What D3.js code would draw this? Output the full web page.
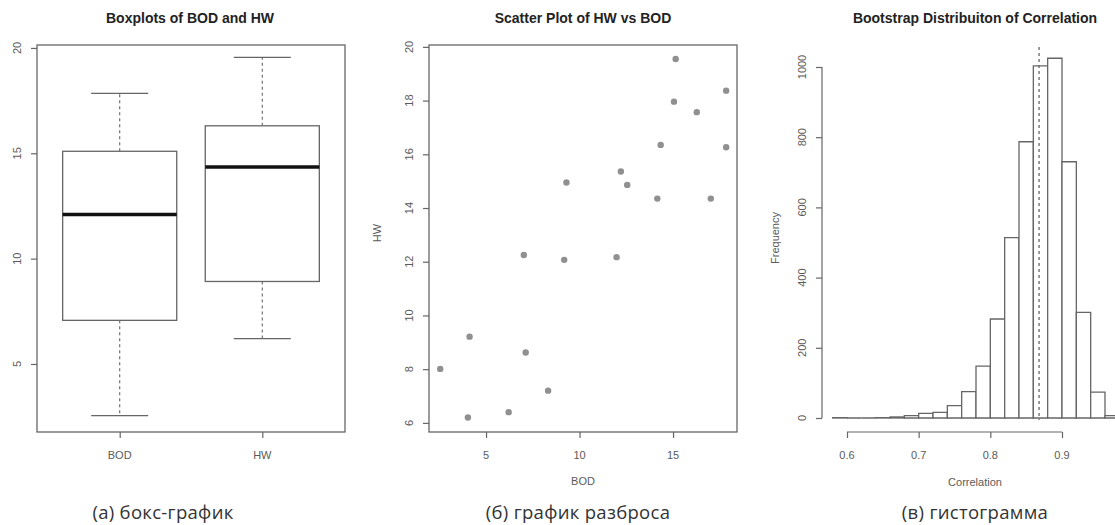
<!DOCTYPE html>
<html>
<head>
<meta charset="utf-8">
<script src="https://cdn.jsdelivr.net/npm/d3@7"></script>
<style>
  html, body { margin: 0; padding: 0; background: #fff; }
  svg { display: block; }
  .tick-label { font-family: "Liberation Sans", Arial, sans-serif; font-size: 11px; fill: #5a5a5a; }
  .axis-title { font-family: "Liberation Sans", Arial, sans-serif; font-size: 11px; fill: #5a5a5a; }
  .title { font-family: "Liberation Sans", Arial, sans-serif; font-size: 14px; font-weight: bold; fill: #222; }
  .caption { font-family: "Open Sans", "Noto Sans", sans-serif; font-size: 18.5px; letter-spacing: 0.3px; fill: #333; }
</style>
</head>
<body>
<svg id="chart" width="1115" height="525"></svg>
<script>
// ---------------- DATA ----------------
const bod = [15.14, 17.84, 15.05, 16.27, 14.34, 17.84, 12.21, 9.30, 12.55, 14.16,
             17.02, 7.02, 9.18, 11.98, 4.12, 7.12, 2.55, 8.32, 6.21, 4.03];
const hw  = [19.55, 18.37, 17.96, 17.57, 16.35, 16.26, 15.36, 14.95, 14.86, 14.35,
             14.35, 12.25, 12.07, 12.17, 9.21, 8.62, 8.01, 7.20, 6.40, 6.20];
const boxCategories = ["BOD", "HW"];
const boxTicks = [5, 10, 15, 20];
const scatterXTicks = [5, 10, 15];
const scatterYTicks = [6, 8, 10, 12, 14, 16, 18, 20];
const histBinStarts = [0.58, 0.60, 0.62, 0.64, 0.66, 0.68, 0.70, 0.72, 0.74, 0.76,
                       0.78, 0.80, 0.82, 0.84, 0.86, 0.88, 0.90, 0.92, 0.94, 0.96];
const histCounts = [1, 0, 0, 1, 3, 7, 13, 16, 35, 75,
                    148, 282, 514, 787, 1003, 1025, 730, 301, 74, 7];
const histBinWidth = 0.02;
const histXTicks = [0.6, 0.7, 0.8, 0.9];
const histYTicks = [0, 200, 400, 600, 800, 1000];
const observedCorr = 0.868;
const titles = ["Boxplots of BOD and HW", "Scatter Plot of HW vs BOD", "Bootstrap Distribuiton of Correlation"];
const captions = ["(а) бокс-график", "(б) график разброса", "(в) гистограмма"];

// ---------------- HELPERS ----------------
const svg = d3.select("#chart");
const axisColor = "#666";

// Tukey five-number summary (as R's boxplot)
function fivenum(arr) {
  const s = arr.slice().sort((a, b) => a - b);
  const n = s.length;
  const n4 = Math.floor((n + 3) / 2) / 2;
  const d = [1, n4, (n + 1) / 2, n + 1 - n4, n];
  return d.map(v => 0.5 * (s[Math.floor(v) - 1] + s[Math.ceil(v) - 1]));
}

function styleLines(gg) {
  gg.selectAll(".domain").attr("stroke", axisColor).attr("stroke-width", 1.2);
  gg.selectAll(".tick line").attr("stroke", axisColor).attr("stroke-width", 1.2);
}

// R-style left axis: ticks via d3.axisLeft, rotated labels drawn explicitly
function leftAxis(g, scale, ticks, xPos, showDomain) {
  const ax = d3.axisLeft(scale).tickValues(ticks).tickSize(6).tickSizeOuter(0).tickFormat("");
  const gg = g.append("g").attr("transform", `translate(${xPos},0)`).call(ax);
  styleLines(gg);
  if (showDomain) {
    gg.select(".domain").attr("d", `M0,${scale(ticks[0])}V${scale(ticks[ticks.length - 1])}`);
  } else {
    gg.select(".domain").remove();
  }
  g.append("g").selectAll("text").data(ticks).enter().append("text")
    .attr("class", "tick-label")
    .attr("text-anchor", "middle")
    .attr("transform", d => `translate(${xPos - 16},${scale(d)}) rotate(-90)`)
    .text(d => d3.format("~g")(d));
  return gg;
}

function bottomAxis(g, scale, ticks, yPos, fmt, showDomain) {
  const ax = d3.axisBottom(scale).tickValues(ticks).tickSize(6).tickSizeOuter(0).tickFormat("");
  const gg = g.append("g").attr("transform", `translate(0,${yPos})`).call(ax);
  styleLines(gg);
  if (showDomain) {
    gg.select(".domain").attr("d", `M${scale(ticks[0])},0H${scale(ticks[ticks.length - 1])}`);
  } else {
    gg.select(".domain").remove();
  }
  const f = fmt || d3.format("~g");
  g.append("g").selectAll("text").data(ticks).enter().append("text")
    .attr("class", "tick-label")
    .attr("text-anchor", "middle")
    .attr("x", d => scale(d)).attr("y", yPos + 27)
    .text(d => f(d));
  return gg;
}

// ---------------- PANEL 1: BOXPLOT ----------------
{
  const L = 37, R = 345, T = 45, B = 432;
  const x = d3.scaleLinear().domain([0.42, 2.58]).range([L, R]);
  const y = d3.scaleLinear().domain([1.77, 20.14]).range([B, T]);
  const g = svg.append("g");

  g.append("rect").attr("x", L).attr("y", T).attr("width", R - L).attr("height", B - T)
    .attr("fill", "none").attr("stroke", axisColor).attr("stroke-width", 1.3);

  const series = [bod, hw];
  const bw = 0.8;
  series.forEach((arr, i) => {
    const [mn, q1, med, q3, mx] = fivenum(arr);
    const c = i + 1;
    g.append("line").attr("x1", x(c)).attr("x2", x(c)).attr("y1", y(q3)).attr("y2", y(mx))
      .attr("stroke", "#666").attr("stroke-width", 1.1).attr("stroke-dasharray", "3,3");
    g.append("line").attr("x1", x(c)).attr("x2", x(c)).attr("y1", y(q1)).attr("y2", y(mn))
      .attr("stroke", "#666").attr("stroke-width", 1.1).attr("stroke-dasharray", "3,3");
    [mn, mx].forEach(v => {
      g.append("line").attr("x1", x(c - bw / 4)).attr("x2", x(c + bw / 4)).attr("y1", y(v)).attr("y2", y(v))
        .attr("stroke", "#666").attr("stroke-width", 1.3);
    });
    g.append("rect").attr("x", x(c - bw / 2)).attr("y", y(q3))
      .attr("width", x(c + bw / 2) - x(c - bw / 2)).attr("height", y(q1) - y(q3))
      .attr("fill", "#fff").attr("stroke", "#666").attr("stroke-width", 1.3);
    g.append("line").attr("x1", x(c - bw / 2)).attr("x2", x(c + bw / 2)).attr("y1", y(med)).attr("y2", y(med))
      .attr("stroke", "#111").attr("stroke-width", 3.5);
  });

  leftAxis(g, y, boxTicks, L, false);
  bottomAxis(g, x, [1, 2], B, (d) => boxCategories[d - 1], false);

  g.append("text").attr("class", "title").attr("x", 190).attr("y", 23).attr("text-anchor", "middle").text(titles[0]);
  g.append("text").attr("class", "caption").attr("x", 163).attr("y", 519).attr("text-anchor", "middle").text(captions[0]);
}

// ---------------- PANEL 2: SCATTER ----------------
{
  const L = 429, R = 737, T = 45, B = 432;
  const x = d3.scaleLinear().domain([1.95, 18.42]).range([L, R]);
  const y = d3.scaleLinear().domain([5.66, 20.07]).range([B, T]);
  const g = svg.append("g");

  g.append("rect").attr("x", L).attr("y", T).attr("width", R - L).attr("height", B - T)
    .attr("fill", "none").attr("stroke", axisColor).attr("stroke-width", 1.3);

  g.selectAll("circle.pt").data(bod.map((b, i) => [b, hw[i]])).enter().append("circle")
    .attr("class", "pt")
    .attr("cx", d => x(d[0])).attr("cy", d => y(d[1])).attr("r", 3.2)
    .attr("fill", "#909090");

  leftAxis(g, y, scatterYTicks, L, false);
  bottomAxis(g, x, scatterXTicks, B, null, false);

  g.append("text").attr("class", "axis-title").attr("x", 583).attr("y", 485).attr("text-anchor", "middle").text("BOD");
  g.append("text").attr("class", "axis-title").attr("transform", "translate(381,233) rotate(-90)")
    .attr("text-anchor", "middle").text("HW");
  g.append("text").attr("class", "title").attr("x", 583).attr("y", 23).attr("text-anchor", "middle").text(titles[1]);
  g.append("text").attr("class", "caption").attr("x", 578).attr("y", 519).attr("text-anchor", "middle").text(captions[1]);
}

// ---------------- PANEL 3: HISTOGRAM ----------------
{
  const x = d3.scaleLinear().domain([0.6, 0.9]).range([847, 1062]);
  const y = d3.scaleLinear().domain([0, 1000]).range([418, 67]);
  const g = svg.append("g");

  g.selectAll("path.bar").data(histBinStarts.map((s, i) => ({ s, c: histCounts[i] }))).enter()
    .append("path").attr("class", "bar")
    .attr("d", d => {
      const x0 = x(d.s), x1 = x(d.s + histBinWidth), y0 = y(0), y1 = y(d.c);
      return `M${x0},${y0}V${y1}H${x1}V${y0}Z`;
    })
    .attr("fill", "#fff").attr("stroke", "#666").attr("stroke-width", 1.3);

  g.append("line").attr("x1", x(observedCorr)).attr("x2", x(observedCorr))
    .attr("y1", 47).attr("y2", 420)
    .attr("stroke", "#666").attr("stroke-width", 1.3).attr("stroke-dasharray", "3,3");

  leftAxis(g, y, histYTicks, 822, true);
  bottomAxis(g, x, histXTicks, 432, null, true);

  g.append("text").attr("class", "axis-title").attr("x", 975).attr("y", 486).attr("text-anchor", "middle").text("Correlation");
  g.append("text").attr("class", "axis-title").attr("transform", "translate(779,238) rotate(-90)")
    .attr("text-anchor", "middle").text("Frequency");
  g.append("text").attr("class", "title").attr("x", 975).attr("y", 23).attr("text-anchor", "middle").text(titles[2]);
  g.append("text").attr("class", "caption").attr("x", 975).attr("y", 519).attr("text-anchor", "middle").text(captions[2]);
}
</script>
</body>
</html>
